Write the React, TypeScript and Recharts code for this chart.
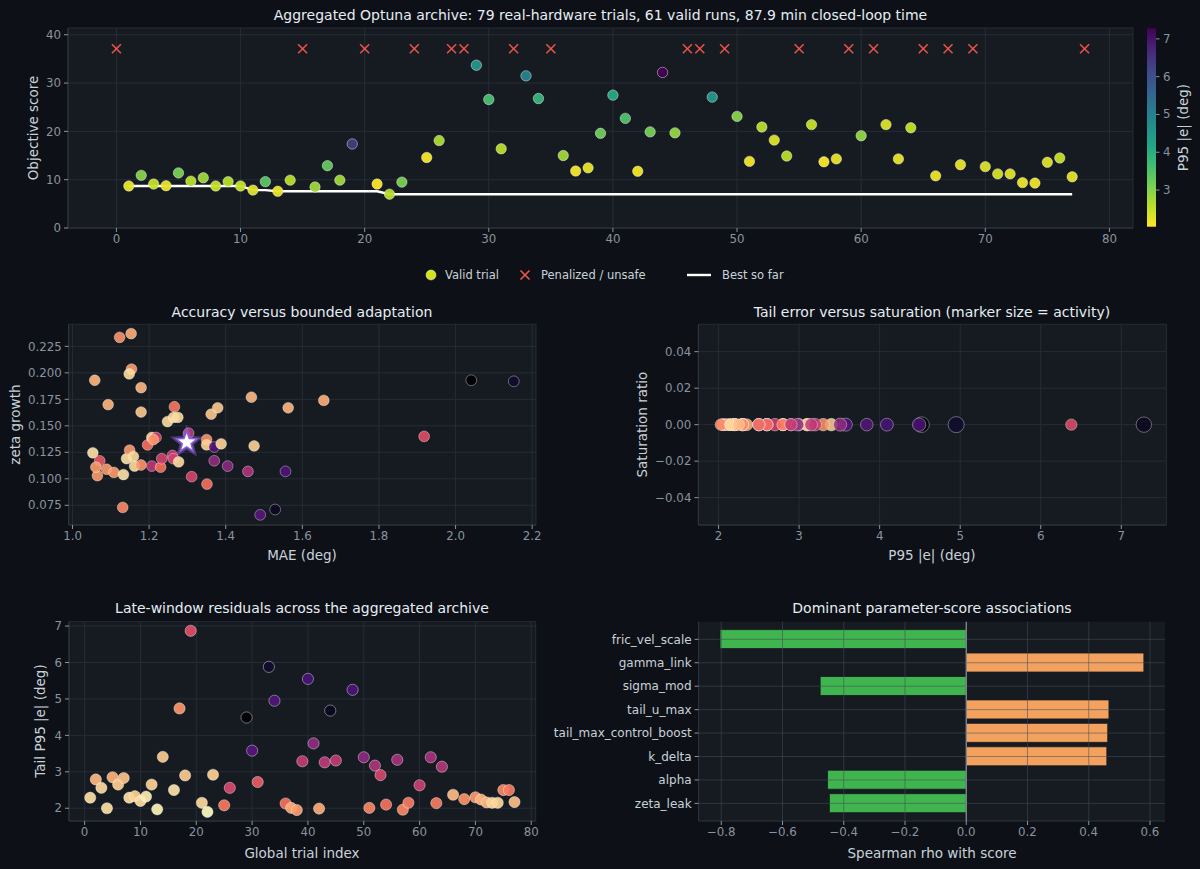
import React from 'react';
import {
  ComposedChart, ScatterChart, Scatter, Line, XAxis, YAxis, CartesianGrid,
  BarChart, Bar, Cell, ReferenceLine,
} from 'recharts';

// ---------------- DATA ----------------
const validTrials = [1,2,3,4,5,6,7,8,9,10,11,12,13,14,16,17,18,19,21,22,23,25,26,29,30,31,33,34,36,37,38,39,40,41,42,43,44,45,48,50,51,52,53,54,56,57,58,60,62,63,64,66,68,70,71,72,73,74,75,76,77];
const validScores = [8.7,10.9,9.1,8.75,11.4,9.7,10.4,8.7,9.6,8.7,7.85,9.6,7.6,9.9,8.5,12.9,9.9,17.4,9.1,7.0,9.5,14.6,18.1,33.7,26.6,16.4,31.5,26.8,15.0,11.8,12.45,19.6,27.5,22.7,11.75,19.9,32.2,19.7,27.1,23.1,13.8,20.9,18.2,14.9,21.4,13.7,14.3,19.1,21.4,14.3,20.75,10.8,13.1,12.7,11.2,11.2,9.4,9.3,13.6,14.5,10.6];
const validP95 = [2.2,3.0,2.5,2.2,3.1,2.6,2.8,2.5,2.6,2.5,2.3,3.4,2.2,2.6,2.8,3.3,2.8,6.38,2.05,2.6,3.1,2.06,2.7,4.52,3.58,2.6,4.95,3.84,2.8,2.08,2.2,3.2,4.09,3.51,2.1,3.15,7.28,2.9,4.49,2.98,2.12,2.6,2.3,2.6,2.5,2.03,2.2,2.9,2.3,2.2,2.5,2.15,2.2,2.3,2.35,2.3,2.15,2.15,2.3,2.5,2.25];
const validTailP95 = [2.29,2.79,2.56,2.0,2.85,2.65,2.83,2.29,2.33,2.2,2.32,2.65,1.97,3.41,2.5,4.74,2.9,6.87,2.15,1.9,2.92,2.08,2.56,4.49,3.58,2.72,5.88,4.95,2.13,2.01,1.95,3.29,5.55,3.78,1.99,3.26,4.68,3.31,5.25,3.4,2.01,3.17,2.91,2.1,3.33,1.96,2.15,2.63,3.4,2.14,3.14,2.37,2.25,2.3,2.24,2.16,2.15,2.15,2.5,2.5,2.17];
const validActivity = [1.0,1.05,0.95,1.0,1.1,1.0,1.05,0.95,1.0,0.95,1.0,1.1,0.95,1.05,1.0,1.1,1.0,0.9,0.95,1.0,1.05,1.0,1.1,1.7,1.2,1.05,1.8,1.1,1.0,0.95,1.0,1.1,1.15,1.2,0.95,1.1,1.65,1.05,1.25,1.1,1.0,1.1,1.05,1.0,1.1,0.95,1.0,1.05,1.1,1.0,1.05,0.95,1.0,1.0,1.0,0.95,0.95,0.95,1.0,1.05,0.95];
const validSaturation = [0,0,0,0,0,0,0,0,0,0,0,0,0,0,0,0,0,0,0,0,0,0,0,0,0,0,0,0,0,0,0,0,0,0,0,0,0,0,0,0,0,0,0,0,0,0,0,0,0,0,0,0,0,0,0,0,0,0,0,0,0];

const penalizedTrials = [0,15,20,24,27,28,32,35,46,47,49,55,59,61,65,67,69,78];
const PENALTY_SCORE = 37.1;

const maeValues = [1.123,1.153,1.154,1.148,1.058,1.179,1.093,1.179,1.266,1.248,1.264,1.275,1.362,1.379,1.467,1.563,1.656,1.053,1.071,1.065,1.061,1.089,1.108,1.133,1.141,1.149,1.159,1.162,1.179,1.196,1.207,1.218,1.211,1.207,1.230,1.233,1.261,1.263,1.277,1.303,1.311,1.350,1.350,1.351,1.370,1.388,1.370,1.405,1.458,1.474,1.556,1.490,1.529,1.131,2.041,2.152,1.918,1.298];
const zetaValues = [0.2335,0.237,0.2035,0.199,0.193,0.186,0.170,0.163,0.168,0.154,0.158,0.158,0.161,0.167,0.177,0.167,0.174,0.1245,0.117,0.103,0.111,0.109,0.106,0.104,0.119,0.127,0.121,0.112,0.113,0.132,0.139,0.139,0.137,0.112,0.111,0.119,0.122,0.119,0.116,0.143,0.102,0.137,0.132,0.095,0.130,0.133,0.117,0.112,0.107,0.131,0.107,0.066,0.071,0.073,0.193,0.192,0.140,0.1345];
const maeColorScores = [13,11.5,12.5,9,11,11,11,10,14.5,9,9,9,10,10,11,11,11.5,8.5,16.5,12.5,12.5,12.5,12.5,8.5,8.5,12.5,9,9,13,15,9,18.5,13,20,15,18.5,19.5,18.5,9,20,18.2,13,9.5,15,26.8,9.3,22.7,23.2,20.8,9.5,27.1,26.6,32.2,13.6,33.7,31.6,17.4,7.0];
const bestMae = 1.298;
const bestZeta = 0.1345;

const rhoParams = ['fric_vel_scale','gamma_link','sigma_mod','tail_u_max','tail_max_control_boost','k_delta','alpha','zeta_leak'];
const rhoValues = [-0.804, 0.58, -0.477, 0.466, 0.462, 0.459, -0.453, -0.447];

const topXTicks = [0,10,20,30,40,50,60,70,80];
const topYTicks = [0,10,20,30,40];
const maeTicks = [1.0,1.2,1.4,1.6,1.8,2.0,2.2];
const zetaTicks = [0.075,0.1,0.125,0.15,0.175,0.2,0.225];
const p95Ticks = [2,3,4,5,6,7];
const satTicks = [-0.04,-0.02,0,0.02,0.04];
const tailTicks = [2,3,4,5,6,7];
const rhoTicks = [-0.8,-0.6,-0.4,-0.2,0,0.2,0.4,0.6];
const cbarTicks = [3,4,5,6,7];

// ---------------- STYLE ----------------
const FONT = '"DejaVu Sans", "Liberation Sans", sans-serif';
const FIG_BG = '#0d1117';
const AX_BG = '#161b22';
const GRID = '#262c35';
const SPINE = '#30363d';
const TICK = '#8b949e';
const LABEL = '#c9d1d9';
const TITLE = '#e6edf3';
const TICK_FS = 11.8;
const LABEL_FS = 13.5;
const TITLE_FS = 14;

const VIRIDIS = ['#440154','#482475','#414487','#355f8d','#2a788e','#21918c','#22a884','#44bf70','#7ad151','#bddf26','#fde725'];
const MAGMA = ['#000004','#140e36','#3b0f70','#641a80','#8c2981','#b73779','#de4968','#f7705c','#fe9f6d','#fecf92','#fcfdbf'];

function hexRgb(h: string) {
  return [parseInt(h.slice(1,3),16), parseInt(h.slice(3,5),16), parseInt(h.slice(5,7),16)];
}
function cmap(stops: string[], t: number) {
  const tt = Math.max(0, Math.min(1, t));
  const x = tt * (stops.length - 1);
  const i = Math.min(stops.length - 2, Math.floor(x));
  const f = x - i;
  const a = hexRgb(stops[i]), b = hexRgb(stops[i+1]);
  const c = a.map((v, k) => Math.round(v + (b[k] - v) * f));
  return `rgb(${c[0]},${c[1]},${c[2]})`;
}
const P95_MIN = Math.min(...validP95), P95_MAX = Math.max(...validP95);
const S_MIN = Math.min(...validScores), S_MAX = Math.max(...validScores);
const viridisR = (v: number) => cmap(VIRIDIS, 1 - (v - P95_MIN) / (P95_MAX - P95_MIN));
const magmaR = (s: number) => cmap(MAGMA, 1 - (s - S_MIN) / (S_MAX - S_MIN));

// ---------------- DERIVED TABLES ----------------
const validData = validTrials.map((t, i) => ({
  trial: t, score: validScores[i], p95: validP95[i], tail: validTailP95[i],
  activity: validActivity[i], sat: validSaturation[i],
}));
const penalData = penalizedTrials.map((t) => ({ trial: t, score: PENALTY_SCORE }));
const bestData: { trial: number; best: number }[] = [];
validData.forEach((d) => {
  const prev = bestData.length ? bestData[bestData.length - 1].best : Infinity;
  bestData.push({ trial: d.trial, best: Math.min(prev, d.score) });
});
const maeData = maeValues.map((m, i) => ({ mae: m, zeta: zetaValues[i], s: maeColorScores[i] }));
const bestPoint = [{ mae: bestMae, zeta: bestZeta }];
const rhoData = rhoParams.map((n, i) => ({ name: n, rho: rhoValues[i] }));

// ---------------- HELPERS ----------------
const minus = (s: string) => s.replace('-', '\u2212');
const tickStyle = { fill: TICK, fontSize: TICK_FS, fontFamily: FONT };
const axisProps = {
  tick: tickStyle,
  tickLine: { stroke: TICK },
  axisLine: { stroke: SPINE },
  tickSize: 4,
  tickMargin: 3,
};

function starPts(cx: number, cy: number, R: number, r: number) {
  const pts: string[] = [];
  for (let k = 0; k < 10; k++) {
    const ang = -Math.PI / 2 + (k * Math.PI) / 5;
    const rad = k % 2 === 0 ? R : r;
    pts.push(`${cx + rad * Math.cos(ang)},${cy + rad * Math.sin(ang)}`);
  }
  return pts.join(' ');
}

const TopDot = (p: any) => (
  <circle cx={p.cx} cy={p.cy} r={5.2} fill={viridisR(p.payload.p95)} fillOpacity={0.95}
    stroke="rgba(255,255,255,0.55)" strokeWidth={0.8} />
);
const XMark = (p: any) => (
  <g stroke="#f0554b" strokeWidth={1.6} strokeOpacity={0.95}>
    <line x1={p.cx - 4.5} y1={p.cy - 4.5} x2={p.cx + 4.5} y2={p.cy + 4.5} />
    <line x1={p.cx - 4.5} y1={p.cy + 4.5} x2={p.cx + 4.5} y2={p.cy - 4.5} />
  </g>
);
const MaeDot = (p: any) => (
  <circle cx={p.cx} cy={p.cy} r={5.4} fill={magmaR(p.payload.s)} fillOpacity={0.9}
    stroke="rgba(255,255,255,0.45)" strokeWidth={0.8} />
);
const StarShape = (p: any) => (
  <g>
    <polygon points={starPts(p.cx, p.cy, 12, 5.2)} fill="none" stroke="rgba(150,100,230,0.45)" strokeWidth={4} />
    <polygon points={starPts(p.cx, p.cy, 11, 4.6)} fill="#ffffff" stroke="#8a5cd6" strokeWidth={1.5} />
  </g>
);
const SatDot = (p: any) => (
  <circle cx={p.cx} cy={p.cy} r={6 * Math.sqrt(p.payload.activity)} fill={magmaR(p.payload.score)}
    fillOpacity={0.85} stroke="rgba(255,255,255,0.45)" strokeWidth={0.8} />
);
const TailDot = (p: any) => (
  <circle cx={p.cx} cy={p.cy} r={5.6} fill={magmaR(p.payload.score)} fillOpacity={0.92}
    stroke="rgba(255,255,255,0.5)" strokeWidth={0.8} />
);

function Txt(props: { x: number; y: number; size: number; color: string; children: any; rotate?: boolean; anchor?: string }) {
  const { x, y, size, color, children, rotate, anchor } = props;
  return (
    <text x={x} y={y} fontSize={size} fill={color} fontFamily={FONT}
      textAnchor={(anchor as any) || 'middle'} dominantBaseline="central"
      transform={rotate ? `rotate(-90 ${x} ${y})` : undefined}>{children}</text>
  );
}

// colorbar geometry
const CB_X = 1147, CB_W = 9, CB_TOP = 28.3, CB_BOT = 226.7;
const cbY = (v: number) => CB_BOT - ((v - P95_MIN) / (P95_MAX - P95_MIN)) * (CB_BOT - CB_TOP);

const OVER_GRID = 'rgba(70,76,86,0.55)';

export default function App() {
  return (
    <div style={{ position: 'absolute', left: 0, top: 0, width: 1200, height: 869, background: FIG_BG, overflow: 'hidden' }}>
      {/* TOP PANEL */}
      <div style={{ position: 'absolute', left: 0, top: 0 }}>
        <ComposedChart width={1140} height={260} margin={{ top: 28, right: 7, bottom: 7, left: 0 }}>
          <CartesianGrid fill={AX_BG} stroke={GRID} />
          <XAxis type="number" dataKey="trial" domain={[-3.9, 81.9]} ticks={topXTicks} allowDataOverflow height={25} {...axisProps} />
          <YAxis type="number" domain={[0, 41.4]} ticks={topYTicks} allowDataOverflow width={68} {...axisProps} />
          <Line data={bestData} dataKey="best" stroke="#ffffff" strokeWidth={2.4} dot={false} isAnimationActive={false} type="linear" />
          <Scatter data={validData} dataKey="score" shape={TopDot} isAnimationActive={false} />
          <Scatter data={penalData} dataKey="score" shape={XMark} isAnimationActive={false} />
        </ComposedChart>
      </div>

      {/* MID LEFT */}
      <div style={{ position: 'absolute', left: 0, top: 300 }}>
        <ScatterChart width={545} height={260} margin={{ top: 24.3, right: 9, bottom: 10, left: 0 }}>
          <CartesianGrid fill={AX_BG} stroke={GRID} />
          <XAxis type="number" dataKey="mae" domain={[0.99, 2.21]} ticks={maeTicks} allowDataOverflow height={25}
            tickFormatter={(v: number) => v.toFixed(1)} {...axisProps} />
          <YAxis type="number" dataKey="zeta" domain={[0.0564, 0.2458]} ticks={zetaTicks} allowDataOverflow width={68.7}
            tickFormatter={(v: number) => v.toFixed(3)} {...axisProps} />
          <Scatter data={maeData} shape={MaeDot} isAnimationActive={false} />
          <Scatter data={bestPoint} shape={StarShape} isAnimationActive={false} />
        </ScatterChart>
      </div>

      {/* MID RIGHT */}
      <div style={{ position: 'absolute', left: 600, top: 300 }}>
        <ScatterChart width={575} height={260} margin={{ top: 24.3, right: 8.6, bottom: 10, left: 0 }}>
          <CartesianGrid fill={AX_BG} stroke={GRID} />
          <XAxis type="number" dataKey="p95" domain={[1.75, 7.56]} ticks={p95Ticks} allowDataOverflow height={25} {...axisProps} />
          <YAxis type="number" dataKey="sat" domain={[-0.055, 0.055]} ticks={satTicks} allowDataOverflow width={98.4}
            tickFormatter={(v: number) => minus(v.toFixed(2))} {...axisProps} />
          <Scatter data={validData} shape={SatDot} isAnimationActive={false} />
        </ScatterChart>
      </div>

      {/* BOTTOM LEFT */}
      <div style={{ position: 'absolute', left: 0, top: 600 }}>
        <ScatterChart width={545} height={260} margin={{ top: 21.7, right: 9.3, bottom: 14, left: 0 }}>
          <CartesianGrid fill={AX_BG} stroke={GRID} />
          <XAxis type="number" dataKey="trial" domain={[-2.8, 80.8]} ticks={topXTicks} allowDataOverflow height={25} {...axisProps} />
          <YAxis type="number" dataKey="tail" domain={[1.65, 7.12]} ticks={tailTicks} allowDataOverflow width={69} {...axisProps} />
          <Scatter data={validData} shape={TailDot} isAnimationActive={false} />
        </ScatterChart>
      </div>

      {/* BOTTOM RIGHT */}
      <div style={{ position: 'absolute', left: 540, top: 600 }}>
        <BarChart layout="vertical" data={rhoData} width={634} height={260} margin={{ top: 21.7, right: 9, bottom: 14, left: 0 }}>
          <CartesianGrid fill={AX_BG} stroke="none" />
          <XAxis type="number" dataKey="rho" domain={[-0.874, 0.649]} ticks={rhoTicks} allowDataOverflow height={25}
            tickFormatter={(v: number) => minus(v.toFixed(1))} {...axisProps} />
          <YAxis type="category" dataKey="name" width={158.6} padding={{ top: 5.9, bottom: 5.9 }}
            {...axisProps} tick={{ fill: LABEL, fontSize: 12, fontFamily: FONT }} />
          <Bar dataKey="rho" barSize={19} isAnimationActive={false} stroke="#15191e" strokeWidth={0.8}>
            {rhoData.map((d, i) => (
              <Cell key={i} fill={d.rho < 0 ? '#3fb44f' : '#f2a25e'} />
            ))}
          </Bar>
          {rhoTicks.filter((t) => t !== 0).map((t) => (
            <ReferenceLine key={'x' + t} x={t} stroke={OVER_GRID} strokeWidth={1} {...({ zIndex: 900 } as any)} />
          ))}
          {rhoParams.map((n) => (
            <ReferenceLine key={'y' + n} y={n} stroke={OVER_GRID} strokeWidth={1} {...({ zIndex: 900 } as any)} />
          ))}
          <ReferenceLine x={0} stroke="#8b949e" strokeWidth={1.2} {...({ zIndex: 950 } as any)} />
        </BarChart>
      </div>

      {/* OVERLAY TEXT, LEGEND, COLORBAR */}
      <svg width={1200} height={869} style={{ position: 'absolute', left: 0, top: 0, pointerEvents: 'none' }}>
        <defs>
          <linearGradient id="cbar" x1="0" y1="1" x2="0" y2="0">
            {VIRIDIS.map((c, i) => (
              <stop key={i} offset={`${(i / (VIRIDIS.length - 1)) * 100}%`} stopColor={VIRIDIS[VIRIDIS.length - 1 - i]} />
            ))}
          </linearGradient>
        </defs>

        <Txt x={600.5} y={15} size={TITLE_FS} color={TITLE}>Aggregated Optuna archive: 79 real-hardware trials, 61 valid runs, 87.9 min closed-loop time</Txt>
        <Txt x={33} y={128} size={LABEL_FS} color={LABEL} rotate>Objective score</Txt>

        {/* colorbar */}
        <rect x={CB_X} y={CB_TOP} width={CB_W} height={CB_BOT - CB_TOP} fill="url(#cbar)" />
        {cbarTicks.map((t) => (
          <g key={t}>
            <line x1={CB_X + CB_W} x2={CB_X + CB_W + 3.5} y1={cbY(t)} y2={cbY(t)} stroke={TICK} strokeWidth={1} />
            <Txt x={CB_X + CB_W + 7} y={cbY(t)} size={TICK_FS} color={TICK} anchor="start">{String(t)}</Txt>
          </g>
        ))}
        <Txt x={1183} y={127.5} size={LABEL_FS} color={LABEL} rotate>P95 |e| (deg)</Txt>

        {/* legend */}
        <circle cx={431} cy={275} r={5} fill="#d2e21b" stroke="rgba(255,255,255,0.55)" strokeWidth={0.8} />
        <Txt x={445} y={275} size={11.5} color={LABEL} anchor="start">Valid trial</Txt>
        <g stroke="#f0554b" strokeWidth={1.6}>
          <line x1={520.5} y1={270.5} x2={529.5} y2={279.5} />
          <line x1={520.5} y1={279.5} x2={529.5} y2={270.5} />
        </g>
        <Txt x={541} y={275} size={11.5} color={LABEL} anchor="start">Penalized / unsafe</Txt>
        <line x1={687} x2={711} y1={275} y2={275} stroke="#ffffff" strokeWidth={2.4} />
        <Txt x={722} y={275} size={11.5} color={LABEL} anchor="start">Best so far</Txt>

        {/* middle row */}
        <Txt x={302} y={312} size={TITLE_FS} color={TITLE}>Accuracy versus bounded adaptation</Txt>
        <Txt x={302} y={555} size={LABEL_FS} color={LABEL}>MAE (deg)</Txt>
        <Txt x={15} y={424.6} size={LABEL_FS} color={LABEL} rotate>zeta growth</Txt>

        <Txt x={932} y={312} size={TITLE_FS} color={TITLE}>Tail error versus saturation (marker size = activity)</Txt>
        <Txt x={932} y={555} size={LABEL_FS} color={LABEL}>P95 |e| (deg)</Txt>
        <Txt x={642} y={424.6} size={LABEL_FS} color={LABEL} rotate>Saturation ratio</Txt>

        {/* bottom row */}
        <Txt x={302} y={608} size={TITLE_FS} color={TITLE}>Late-window residuals across the aggregated archive</Txt>
        <Txt x={302} y={853} size={LABEL_FS} color={LABEL}>Global trial index</Txt>
        <Txt x={40} y={721} size={LABEL_FS} color={LABEL} rotate>Tail P95 |e| (deg)</Txt>

        <Txt x={932} y={608} size={TITLE_FS} color={TITLE}>Dominant parameter-score associations</Txt>
        <Txt x={932} y={853} size={LABEL_FS} color={LABEL}>Spearman rho with score</Txt>
      </svg>
    </div>
  );
}
